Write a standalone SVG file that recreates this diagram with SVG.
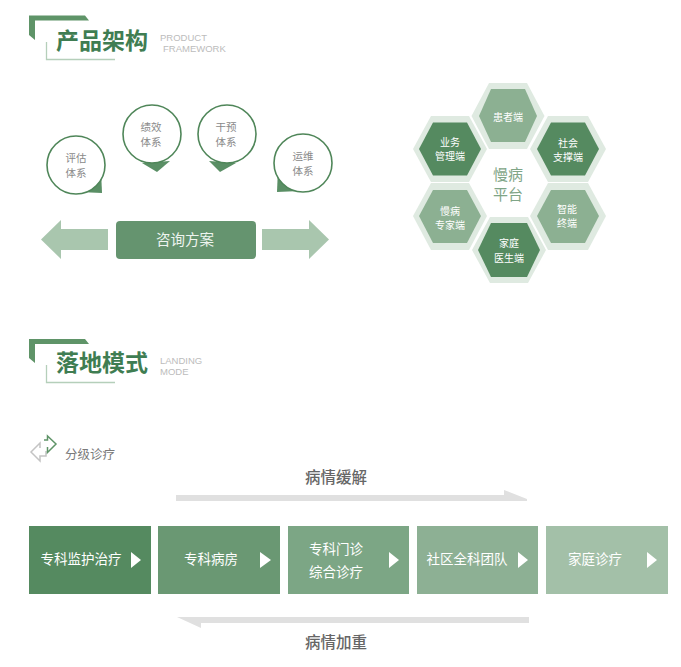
<svg xmlns="http://www.w3.org/2000/svg" width="681" height="667" viewBox="0 0 681 667">
<style>
text{font-family:"Noto Sans CJK SC","Liberation Sans",sans-serif;text-anchor:middle}
.h{font-size:23px;font-weight:700;fill:#3f7d52}
.en{font-family:"Liberation Sans",sans-serif;font-size:9.500px;fill:#bcbcbc;text-anchor:start}
.c{fill:#fff;stroke:#4f8659;stroke-width:1.600}
.t{fill:#fff;font-size:10px}
.g{fill:#8a8a8a;font-size:10.500px}
.o{fill:#dfeae1}
.d{fill:#558a60}.m{fill:#8cb092}
.w{fill:#fff;font-size:13.500px}
.tri{fill:#fff}
.b{font-size:15.500px;font-weight:500;fill:#666}
.gb{fill:#e0e0e0}
</style>
<g id="title1">
<path d="M29 15.500H85L89 20.500H35V40L29 35Z" fill="#5f9468"/>
<path d="M46.500 42V59.500H115" fill="none" stroke="#b5cfba" stroke-width="1.300"/>
<text class="h" x="102" y="49">产品架构</text>
<text class="en" x="160" y="41">PRODUCT</text>
<text class="en" x="163" y="52">FRAMEWORK</text>
</g>
<g id="bubble-pg">
<path d="M102 193L79 192L101 170Z" fill="#5a8f65"/><circle class="c" cx="76" cy="165" r="29"/>
<text class="g"><tspan x="76" y="162">评估</tspan><tspan x="76" y="177">体系</tspan></text>
</g>
<g id="bubble-jx">
<path d="M157 172L142 163L170 161Z" fill="#5a8f65"/><circle class="c" cx="152" cy="134" r="29"/>
<text class="g"><tspan x="151" y="131">绩效</tspan><tspan x="151" y="146">体系</tspan></text>
</g>
<g id="bubble-gy">
<path d="M220 172L209 161L236 163Z" fill="#5a8f65"/><circle class="c" cx="227" cy="134" r="29"/>
<text class="g"><tspan x="226" y="131">干预</tspan><tspan x="226" y="146">体系</tspan></text>
</g>
<g id="bubble-yw">
<path d="M277 192L278 168L300 191Z" fill="#5a8f65"/><circle class="c" cx="303" cy="163" r="29"/>
<text class="g"><tspan x="303" y="160">运维</tspan><tspan x="303" y="175">体系</tspan></text>
</g>
<g id="plan">
<rect x="116" y="221" width="140" height="38" rx="4" fill="#65946f"/>
<text x="185" y="245" fill="#eef4ef" font-size="14.500px">咨询方案</text>
</g>
<g id="connectors">
<path d="M108 229V250H61V259L41 239.500L61 220V229Z" fill="#a9c6ae"/>
<path d="M262 229V250H309V259L329 239.500L309 220V229Z" fill="#a9c6ae"/>
<path d="M176 495H504V490L527 499V501H176Z" class="gb"/>
<path d="M177 617H529V623H201V628Z" class="gb"/>
</g>
<g id="hex-hz"><path class="o" d="M471.500 116L489 83H527L544.500 116L527 149H489Z"/><path class="m" d="M479 116L491 89H525L537 116L525 142H491Z"/>
<text class="t" x="508" y="121">患者端</text></g>
<g id="hex-yw"><path class="o" d="M413 149L431 116H469L487 149L469 182H431Z"/><path class="d" d="M419 149L433 122.500H467L481 149L467 175.500H433Z"/>
<text class="t"><tspan x="450" y="146">业务</tspan><tspan x="450" y="160">管理端</tspan></text></g>
<g id="hex-sh"><path class="o" d="M530 149L548 116H588L606 149L588 182H548Z"/><path class="d" d="M537 149L551 122.500H585L599 149L585 175.500H551Z"/>
<text class="t"><tspan x="568" y="147">社会</tspan><tspan x="568" y="161">支撑端</tspan></text></g>
<g id="hex-zj"><path class="o" d="M413 216L431 183H469L487 216L469 250H431Z"/><path class="m" d="M419 216L433 190H467L481 216L467 243H433Z"/>
<text class="t"><tspan x="450" y="215">慢病</tspan><tspan x="450" y="229">专家端</tspan></text></g>
<g id="hex-zn"><path class="o" d="M530 216L548 183H588L606 216L588 250H548Z"/><path class="m" d="M537 216L551 190H585L599 216L585 243H551Z"/>
<text class="t"><tspan x="567" y="213">智能</tspan><tspan x="567" y="227">终端</tspan></text></g>
<g id="hex-jt"><path class="o" d="M472 250L490 217H528L546 250L528 283H490Z"/><path class="d" d="M478 250L491 223H527L540 250L527 277H491Z"/>
<text class="t"><tspan x="509" y="247">家庭</tspan><tspan x="509" y="262">医生端</tspan></text></g>
<g id="hub"><text x="508" y="180" fill="#7fa587" font-size="15px">慢病</text><text x="508" y="200" fill="#7fa587" font-size="15px">平台</text></g>
<g id="title2">
<path d="M29 339H85L89 344H35V363L29 358Z" fill="#5f9468"/>
<path d="M46.500 365V382.500H115" fill="none" stroke="#b5cfba" stroke-width="1.300"/>
<text class="h" x="102" y="371">落地模式</text>
<text class="en" x="160" y="364">LANDING</text>
<text class="en" x="160" y="375">MODE</text>
</g>
<g id="icon" fill="none" stroke-width="1.500">
<path d="M40 448V443L31 452L40 461V456H46V451" stroke="#c4c4c4"/>
<path d="M44 440H47.500V436L56 444L47.500 452.500V447" stroke="#5f9468"/>
</g>
<text x="90" y="459" fill="#7a7a7a" font-size="12.500px">分级诊疗</text>
<text class="b" x="336" y="483">病情缓解</text>
<text class="b" x="336" y="648">病情加重</text>
<g id="step1"><rect x="29" y="526" width="122" height="68" fill="#558a60"/><text class="w" x="81" y="564">专科监护治疗</text><path class="tri" d="M131 552L141 560L131 568Z"/></g>
<g id="step2"><rect x="158" y="526" width="122" height="68" fill="#6a9873"/><text class="w" x="211" y="564">专科病房</text><path class="tri" d="M260 552L271 560L260 568Z"/></g>
<g id="step3"><rect x="288" y="526" width="121" height="68" fill="#7ca685"/><text class="w"><tspan x="336" y="554">专科门诊</tspan><tspan x="336" y="577">综合诊疗</tspan></text><path class="tri" d="M389 552L399 560L389 568Z"/></g>
<g id="step4"><rect x="417" y="526" width="121" height="68" fill="#8db094"/><text class="w" x="467" y="564">社区全科团队</text><path class="tri" d="M518 552L528 560L518 568Z"/></g>
<g id="step5"><rect x="546" y="526" width="122" height="68" fill="#a3c0a8"/><text class="w" x="595" y="564">家庭诊疗</text><path class="tri" d="M647 552L657 560L647 568Z"/></g>
</svg>
